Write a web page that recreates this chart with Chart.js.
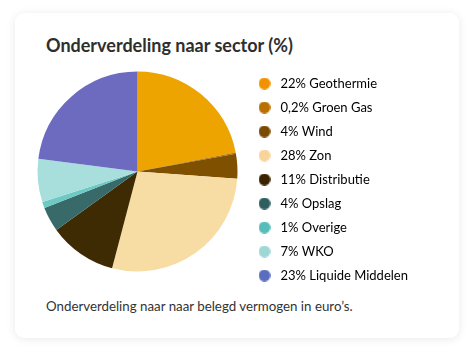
<!DOCTYPE html>
<html>
<head>
<meta charset="utf-8">
<script src="https://cdn.jsdelivr.net/npm/chart.js@4/dist/chart.umd.min.js"></script>
<style>
  html, body { margin: 0; padding: 0; background: #ffffff; width: 474px; height: 356px; overflow: hidden; }
  .card {
    position: absolute; left: 15px; top: 13px; width: 444px; height: 325px;
    background: #fff; border-radius: 9px;
    box-shadow: 0 1px 10px rgba(0,0,0,0.09);
  }
  .title {
    position: absolute; left: 46px; top: 34px; margin: 0;
    font-family: Lato, "Open Sans", sans-serif; font-weight: 700; font-size: 18px;
    color: #2e2e2e; white-space: nowrap;
  }
  .footer {
    position: absolute; left: 46px; top: 298px; margin: 0;
    font-family: Lato, "Open Sans", sans-serif; font-size: 13.3px;
    color: #333; white-space: nowrap;
  }
  .wrap { position: absolute; left: 31px; top: 50px; width: 430px; height: 243px; }
</style>
</head>
<body>
<div class="card"></div>
<div class="title">Onderverdeling naar sector (%)</div>
<div class="footer">Onderverdeling naar naar belegd vermogen in euro’s.</div>
<div class="wrap"><canvas id="c"></canvas></div>
<script>
const categories = ["Geothermie", "Groen Gas", "Wind", "Zon", "Distributie", "Opslag", "Overige", "WKO", "Liquide Middelen"];
const shareLabels = ["22%", "0,2%", "4%", "28%", "11%", "4%", "1%", "7%", "23%"];
const shares = [22, 0.2, 4, 28, 11, 4, 1, 7, 23];
const sliceColors = ["#EDA300", "#B3700A", "#7F5000", "#F7DDA3", "#3E2A03", "#386A69", "#6CC9C3", "#A8DFDC", "#6C6BC0"];
const legendColors = ["#F39200", "#BA6F00", "#7A4A00", "#F9D49A", "#3A2200", "#2E5E5E", "#55BDBA", "#9ED8D6", "#5B6DBE"];

const legendFont = { family: 'Lato, "Open Sans", sans-serif', size: 13 };
const legendTexts = categories.map((c, i) => shareLabels[i] + ' ' + c);

function dot(color) {
  const c = document.createElement('canvas');
  c.width = 12; c.height = 12;
  const g = c.getContext('2d');
  g.fillStyle = color;
  g.beginPath(); g.arc(6, 6, 5.9, 0, Math.PI * 2); g.fill();
  return c;
}

// widest legend text, to give the legend box a fixed width
const mctx = document.createElement('canvas').getContext('2d');
mctx.font = legendFont.size + 'px ' + legendFont.family;
const maxTextW = Math.max(...legendTexts.map(t => mctx.measureText(t).width));
const legendW = Math.ceil(maxTextW) + 41;
const plotW = 213;
const padRight = 430 - plotW - legendW;

new Chart(document.getElementById('c'), {
  type: 'pie',
  data: {
    labels: legendTexts,
    datasets: [{
      data: shares,
      backgroundColor: sliceColors,
      borderWidth: 0,
      radius: 100
    }]
  },
  options: {
    responsive: true,
    maintainAspectRatio: false,
    animation: false,
    layout: { padding: { left: 0, right: padRight, top: 0, bottom: 0 } },
    plugins: {
      tooltip: { enabled: false },
      legend: {
        position: 'right',
        align: 'end',
        maxWidth: legendW,
        labels: {
          usePointStyle: true,
          pointStyleWidth: 19,
          padding: 11,
          color: '#3a3a3a',
          font: legendFont,
          generateLabels(chart) {
            return chart.data.labels.map((t, i) => ({
              text: t,
              fillStyle: legendColors[i],
              strokeStyle: legendColors[i],
              lineWidth: 0,
              pointStyle: dot(legendColors[i]),
              hidden: false,
              index: i
            }));
          }
        }
      }
    }
  }
});
</script>
</body>
</html>
